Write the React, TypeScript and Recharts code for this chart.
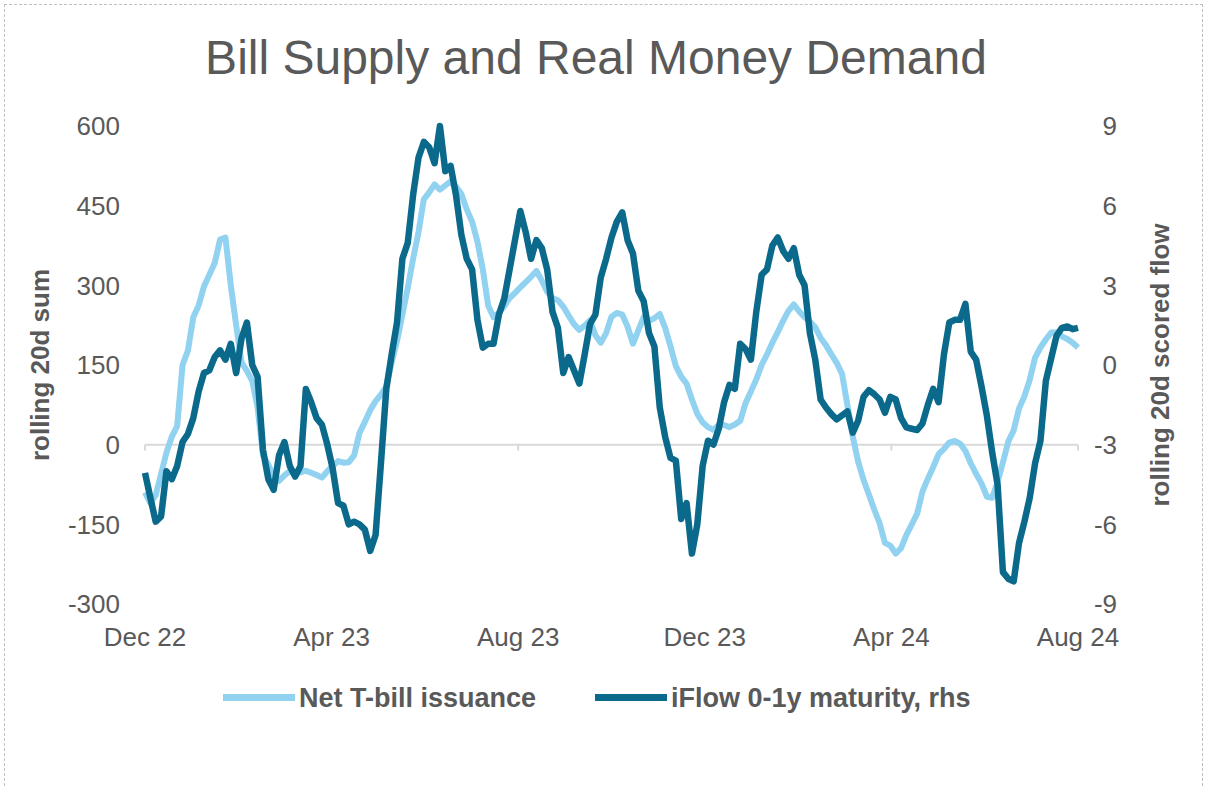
import { LineChart, Line, XAxis, YAxis, ReferenceLine } from "recharts"

const FONT = '"Liberation Sans", Arial, sans-serif'
const GREY = "#595959"
const LIGHT = "#91d2f0"
const DARK = "#0b6a8b"

// twice-weekly observations, Dec 22 -> Aug 24 (index 0..174)
const tickLabels = ["Dec 22", "Apr 23", "Aug 23", "Dec 23", "Apr 24", "Aug 24"]
const tickIdx = [0, 34.8, 69.6, 104.4, 139.2, 174]
const zeroLineMarks = [0, 69.6, 139.2, 174]
const leftTicks = [-300, -150, 0, 150, 300, 450, 600]
const rightTicks = [-9, -6, -3, 0, 3, 6, 9]

// rolling 20d sum, lhs
const netBills = [
  -90, -110, -95, -55, -15, 15, 35, 150, 177, 240,
  262, 298, 320, 342, 386, 390, 300, 225, 155, 139,
  120, 70, -20, -38, -60, -68, -58, -50, -54, -52,
  -49, -53, -57, -62, -50, -40, -31, -34, -33, -20,
  22, 43, 65, 82, 94, 110, 155, 195, 245, 295,
  350, 400, 462, 475, 490, 480, 488, 496, 486, 472,
  443, 420, 382, 330, 262, 240, 248, 261, 276, 286,
  296, 306, 316, 327, 309, 288, 276, 272, 260, 243,
  227, 216, 224, 234, 206, 192, 210, 241, 248, 245,
  222, 190, 215, 240, 233, 238, 246, 220, 185, 148,
  128, 115, 85, 58, 42, 33, 28, 37, 37, 33,
  38, 45, 78, 100, 123, 150, 170, 192, 212, 233,
  252, 264, 251, 240, 232, 221, 201, 187, 170, 154,
  133, 74, 15, -32, -66, -94, -122, -148, -185, -190,
  -205, -195, -170, -150, -130, -88, -64, -42, -18, -8,
  4, 7, 2, -12, -35, -55, -73, -98, -100, -70,
  -33, 6, 27, 68, 91, 122, 164, 183, 198, 211,
  211, 204, 199, 192, 183,
]

// rolling 20d scored flow, rhs
const iflowShort = [
  -4.06, -5.0, -5.9, -5.7, -4.0, -4.3, -3.8, -2.9, -2.6, -2.0,
  -1.0, -0.3, -0.2, 0.3, 0.55, 0.2, 0.8, -0.3, 1.0, 1.6,
  0.0, -0.45, -3.2, -4.3, -4.7, -3.4, -2.9, -3.8, -4.2, -3.8,
  -0.9, -1.4, -2.0, -2.25, -3.0, -3.9, -5.2, -5.3, -6.0, -5.9,
  -6.0, -6.2, -7.0, -6.4, -3.7, -0.9, 0.4, 1.6, 4.0, 4.6,
  6.4, 7.8, 8.4, 8.2, 7.6, 9.0, 7.3, 7.5, 6.4, 4.9,
  4.0, 3.6, 1.7, 0.65, 0.8, 0.8, 1.9, 2.5, 3.6, 4.7,
  5.8, 5.0, 4.0, 4.7, 4.4, 3.6, 2.0, 1.4, -0.3, 0.3,
  -0.2, -0.7, 0.4, 1.55, 1.9, 3.3, 4.0, 4.8, 5.4, 5.75,
  4.7, 4.2, 2.8, 2.4, 1.2, 0.7, -1.6, -2.7, -3.5, -3.6,
  -5.8, -5.2, -7.1, -6.0, -3.8, -2.85, -3.0, -2.4, -1.4, -0.75,
  -0.9, 0.8, 0.6, 0.2, 2.0, 3.4, 3.6, 4.5, 4.8, 4.3,
  4.0, 4.4, 3.4, 3.0, 1.2, 0.2, -1.3, -1.6, -1.85, -2.05,
  -1.9, -1.75, -2.55, -2.1, -1.2, -0.95, -1.1, -1.3, -1.8, -1.2,
  -1.3, -2.0, -2.35, -2.4, -2.45, -2.2, -1.5, -0.9, -1.4, 0.4,
  1.6, 1.7, 1.7, 2.3, 0.5, 0.2, -0.8, -1.9, -3.3, -4.5,
  -7.8, -8.05, -8.15, -6.7, -5.9, -5.0, -3.7, -2.85, -0.6, 0.25,
  1.1, 1.4, 1.45, 1.35, 1.4,
]

const data = netBills.map((v, i) => ({ i, bills: v, iflow: iflowShort[i] }))

const axisTitle = (text: string, dx: number) => (props: any) => {
  const vb = props.viewBox
  const cx = vb.x + dx
  const cy = vb.y + vb.height / 2
  return (
    <text
      x={cx}
      y={cy}
      transform={`rotate(-90 ${cx} ${cy})`}
      textAnchor="middle"
      dominantBaseline="central"
      fill={GREY}
      fontSize={26}
      fontWeight="bold"
    >
      {text}
    </text>
  )
}

const RightTick = ({ x, y, payload }: any) => (
  <text x={x + 39} y={y} dy="0.355em" textAnchor="end" fill={GREY} fontSize={26}>
    {payload.value}
  </text>
)

function LegendItem({ left, color, label }: { left: number; color: string; label: string }) {
  return (
    <>
      <div style={{ position: "absolute", left, top: 694, width: 72, height: 7, background: color }} />
      <div
        style={{
          position: "absolute",
          left: left + 76,
          top: 685,
          fontSize: 27,
          lineHeight: "27px",
          fontWeight: "bold",
          color: GREY,
          whiteSpace: "nowrap",
        }}
      >
        {label}
      </div>
    </>
  )
}

export default function App() {
  return (
    <div
      style={{
        position: "absolute",
        left: 0,
        top: 0,
        width: 1206,
        height: 788,
        overflow: "hidden",
        background: "#fff",
        fontFamily: FONT,
      }}
    >
      <div
        style={{
          position: "absolute",
          left: 4,
          top: 4,
          width: 1197,
          height: 820,
          border: "1px dashed #bfbfbf",
        }}
      />
      <div
        style={{
          position: "absolute",
          left: 0,
          top: 34,
          width: 1192,
          textAlign: "center",
          fontSize: 48,
          lineHeight: "48px",
          color: GREY,
        }}
      >
        Bill Supply and Real Money Demand
      </div>

      <div style={{ position: "absolute", left: 0, top: 0 }}>
        <LineChart width={1206} height={788} data={data} margin={{ top: 126, right: 8, bottom: 160, left: 25 }}>
          <XAxis
            dataKey="i"
            type="number"
            domain={[0, 174]}
            ticks={tickIdx}
            interval={0}
            tickFormatter={(v: number) => tickLabels[tickIdx.indexOf(v)]}
            axisLine={false}
            tickLine={false}
            tickSize={0}
            tickMargin={24}
            tick={{ fill: GREY, fontSize: 26 }}
            height={24}
          />
          <YAxis
            yAxisId="left"
            domain={[-300, 600]}
            ticks={leftTicks}
            interval={0}
            axisLine={false}
            tickLine={false}
            tickSize={0}
            tickMargin={25}
            width={120}
            tick={{ fill: GREY, fontSize: 26 }}
            label={{ content: axisTitle("rolling 20d sum", 15) }}
          />
          <YAxis
            yAxisId="right"
            orientation="right"
            domain={[-9, 9]}
            ticks={rightTicks}
            interval={0}
            axisLine={false}
            tickLine={false}
            tickSize={0}
            tickMargin={0}
            width={120}
            tick={<RightTick />}
            label={{ content: axisTitle("rolling 20d scored flow", 82) }}
          />
          <ReferenceLine yAxisId="left" y={0} stroke="#d9d9d9" strokeWidth={2} />
          {zeroLineMarks.map((m) => (
            <ReferenceLine
              key={m}
              yAxisId="left"
              segment={[
                { x: m, y: 0 },
                { x: m, y: -11 },
              ]}
              stroke="#d9d9d9"
              strokeWidth={2}
            />
          ))}
          <Line
            yAxisId="left"
            dataKey="bills"
            name="Net T-bill issuance"
            stroke={LIGHT}
            strokeWidth={6}
            dot={false}
            strokeLinejoin="round"
            isAnimationActive={false}
          />
          <Line
            yAxisId="right"
            dataKey="iflow"
            name="iFlow 0-1y maturity, rhs"
            stroke={DARK}
            strokeWidth={6.5}
            dot={false}
            strokeLinejoin="round"
            isAnimationActive={false}
          />
        </LineChart>
      </div>

      <LegendItem left={223} color={LIGHT} label="Net T-bill issuance" />
      <LegendItem left={595} color={DARK} label="iFlow 0-1y maturity, rhs" />
    </div>
  )
}
